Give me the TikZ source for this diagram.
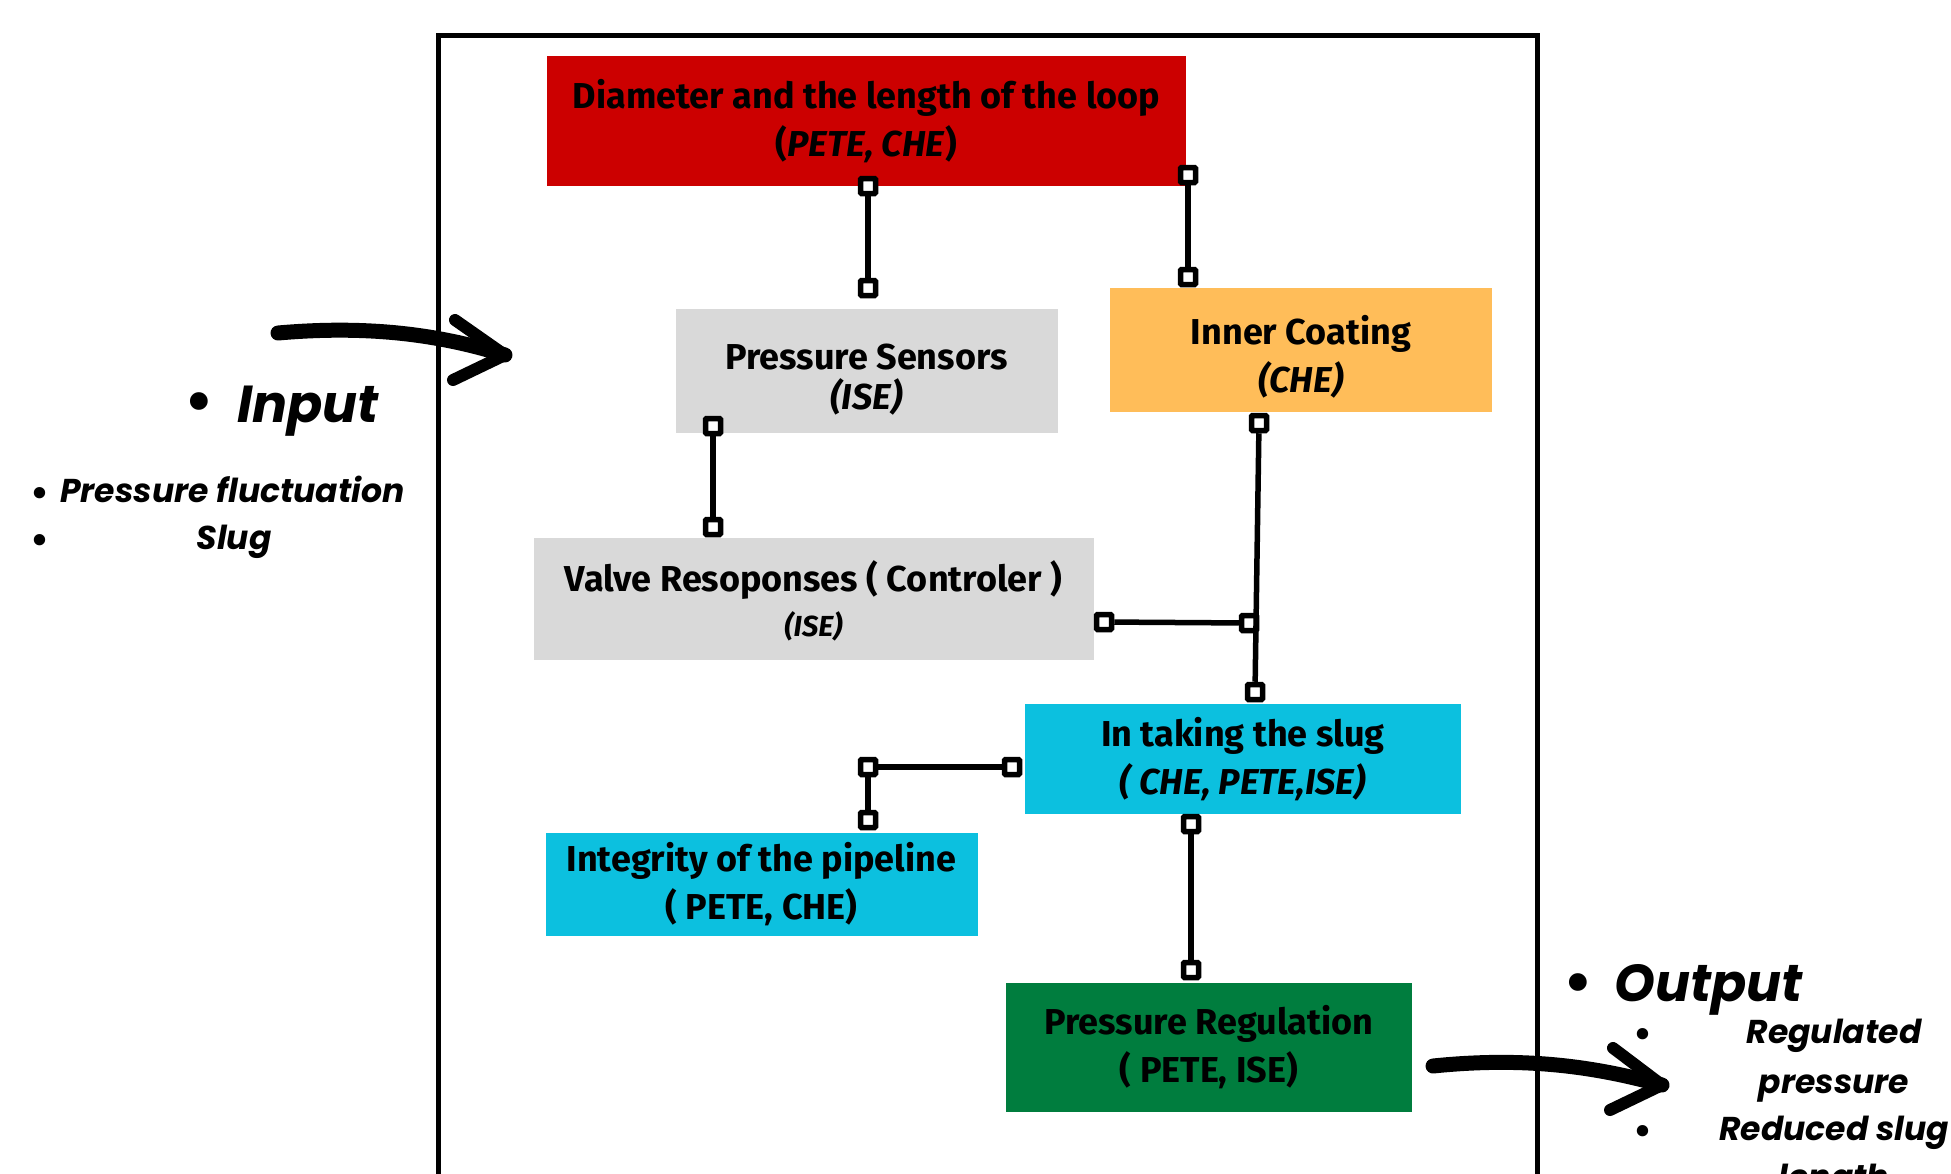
\documentclass[tikz,border=0pt]{standalone}
\usepackage{fontspec}
\setmainfont{Fira Sans}
\newfontfamily\popfont{Poppins}
\usepackage{tikz}
\usetikzlibrary{positioning, calc}

\definecolor{loopred}{HTML}{CC0000}
\definecolor{sensgray}{HTML}{D9D9D9}
\definecolor{coatorange}{HTML}{FFBD59}
\definecolor{slugcyan}{HTML}{0CC0DF}
\definecolor{regulgreen}{HTML}{007D3E}

\begin{document}
\begin{tikzpicture}[x=1pt, y=-1pt,
  box/.style={inner sep=0pt, align=center, font=\fontsize{36}{48}\selectfont\bfseries},
  pin/.style={draw, fill=white, line width=5.5pt, minimum size=15pt, inner sep=0pt, rounded corners=1pt},
  link/.style={line width=5.5pt},
  brush/.style={line width=15pt, line cap=round, line join=round},
  bigtext/.style={inner sep=0pt, font=\popfont\bfseries\itshape\fontsize{52}{60}\selectfont},
  smalltext/.style={inner sep=0pt, align=center, font=\popfont\bfseries\itshape\fontsize{33}{48}\selectfont},
  bigbullet/.style={inner sep=0pt, font=\popfont\fontsize{72}{72}\selectfont},
  smallbullet/.style={inner sep=0pt, font=\popfont\fontsize{46}{46}\selectfont},
]
  \useasboundingbox (0,0) rectangle (1951,1173);

  % frame
  \draw[line width=5pt] (438,1200) -- (438,35) -- (1537,35) -- (1537,1200);

  % boxes
  \node[box, fill=loopred, minimum width=639pt, minimum height=130pt] (diam) at (866.5,121)
        {Diameter and the length of the loop\\(\textit{PETE, CHE})};
  \node[box, fill=sensgray, minimum width=382pt, minimum height=124pt, below=123pt of diam] (sens)
        {\rule{0pt}{41pt}Pressure Sensors\\[-8pt]\textit{(ISE)}};
  \node[box, fill=coatorange, minimum width=382pt, minimum height=124pt,
        right=52pt of sens.north east, anchor=north west, yshift=21pt] (coat)
        {\rule{0pt}{41pt}Inner Coating\\\textit{(CHE)}};
  \node[box, fill=sensgray, minimum width=560pt, minimum height=122pt,
        below=104pt of sens, xshift=-53pt] (valve)
        {\rule{0pt}{36pt}Valve Resoponses ( Controler )\\[-3pt]{\fontsize{29}{34}\selectfont\textit{(ISE)}}};
  \node[box, fill=slugcyan, minimum width=436pt, minimum height=110pt,
        below=44pt of valve.south east, anchor=north west, xshift=-69pt] (slug)
        {In taking the slug\\\textit{( CHE, PETE,ISE)}};
  \node[box, fill=slugcyan, minimum width=432pt, minimum height=103pt,
        below=18pt of slug.south west, anchor=north east, xshift=-47pt] (integ)
        {Integrity of the pipeline\\( PETE, CHE)};
  \node[box, fill=regulgreen, minimum width=406pt, minimum height=129pt,
        below=168pt of slug.south west, anchor=north west, xshift=-19pt] (regul)
        {Pressure Regulation\\( PETE, ISE)};

  % square ends of the links
  \node[pin] (p1)  at (868,186) {};
  \node[pin] (p2)  at (868,288) {};
  \node[pin] (p3)  at (1188,175) {};
  \node[pin] (p4)  at (1188,277) {};
  \node[pin] (p5)  at (713,426) {};
  \node[pin] (p6)  at (713,527) {};
  \node[pin] (p7)  at (1259,423) {};
  \node[pin] (p8)  at (1249,623) {};
  \node[pin] (p9)  at (1255,692) {};
  \node[pin] (p10) at (1104,622) {};
  \node[pin] (p11) at (1012,767) {};
  \node[pin] (p12) at (868,767) {};
  \node[pin] (p13) at (868,820) {};
  \node[pin] (p14) at (1191,824) {};
  \node[pin] (p15) at (1191,970) {};

  \draw[link] (p1) -- (p2);
  \draw[link] (p3) -- (p4);
  \draw[link] (p5) -- (p6);
  \draw[link] (p7) -- (p9);
  \draw[link] (p10) -- (p8);
  \draw[link] (p11) -- (p12);
  \draw[link] (p12) -- (p13);
  \draw[link] (p14) -- (p15);

  % input side
  \coordinate (in1) at (278,333);
  \coordinate (in2) at (505,355);
  \coordinate (in3) at (455,320);
  \coordinate (in4) at (453,380);
  \draw[brush] (in1) .. controls (380,324) and (450,338) .. (in2);
  \draw[brush, line width=12pt] (in3) -- (in2) -- (in4);

  \node[bigbullet, anchor=mid] (inbul) at (199,423) {\textbullet};
  \node[bigtext, anchor=mid west] (input) at (237,420) {Input};
  \node[smallbullet, anchor=mid] (fluctbul) at (40,506) {\textbullet};
  \node[smalltext, anchor=mid west] (fluct) at (60,500) {Pressure fluctuation};
  \node[smallbullet, anchor=mid] (slugbul) at (40,553) {\textbullet};
  \node[smalltext, anchor=mid] (slugin) at (234,547) {Slug};

  % output side
  \coordinate (out1) at (1433,1066);
  \coordinate (out2) at (1662,1085);
  \coordinate (out3) at (1613,1048);
  \coordinate (out4) at (1610,1110);
  \draw[brush] (out1) .. controls (1530,1056) and (1600,1068) .. (out2);
  \draw[brush, line width=12pt] (out3) -- (out2) -- (out4);

  \node[bigbullet, anchor=mid] (outbul) at (1578,1004) {\textbullet};
  \node[bigtext, anchor=mid west] (output) at (1614,999) {Output};
  \node[smallbullet, anchor=mid] (regbul) at (1643,1047) {\textbullet};
  \node[smalltext, anchor=mid] (regout) at (1834,1041) {Regulated};
  \node[smalltext, anchor=mid] (presout) at (1834,1091) {pressure};
  \node[smallbullet, anchor=mid] (redbul) at (1643,1144) {\textbullet};
  \node[smalltext, anchor=mid] (redout) at (1834,1138) {Reduced slug};
  \node[smalltext, anchor=mid] (lenout) at (1834,1186) {length};
\end{tikzpicture}
\end{document}
